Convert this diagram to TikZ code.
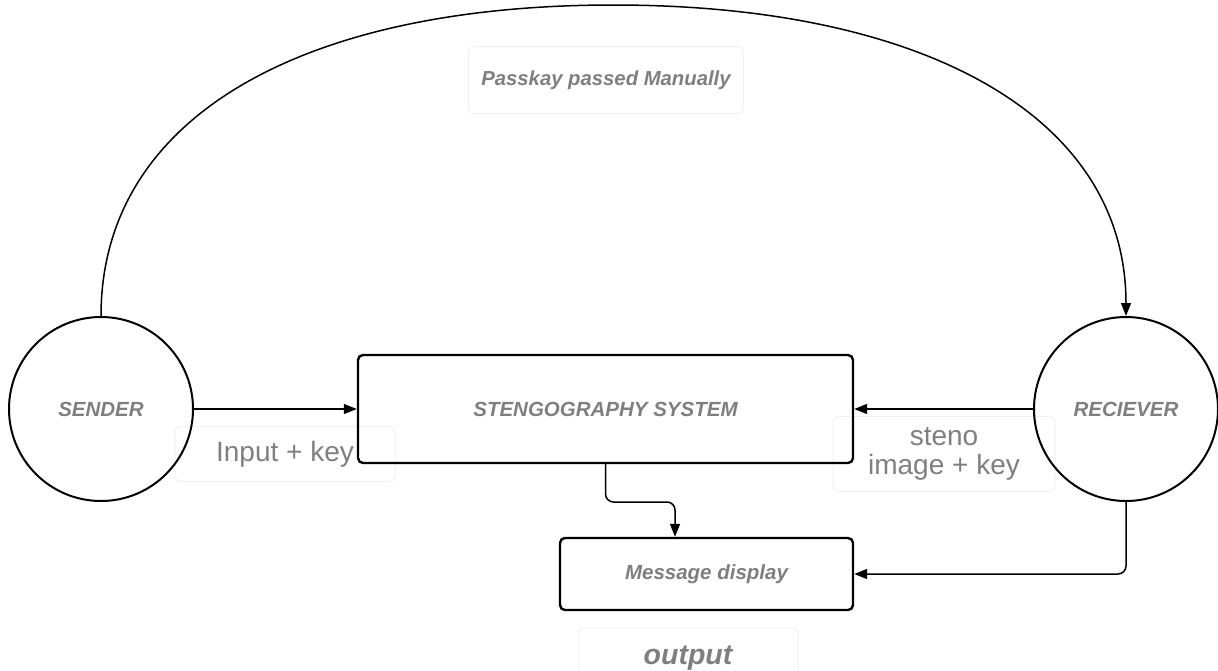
\documentclass[tikz,border=0pt]{standalone}
\usepackage{fontspec}
\setmainfont{Liberation Sans}
\usetikzlibrary{arrows.meta}
\definecolor{txt}{HTML}{7F7F7F}
\definecolor{faint}{HTML}{F1F1F1}
\tikzset{
  circ/.style={circle,draw,line width=2pt,minimum size=184pt,inner sep=0pt,
    font=\bfseries\itshape\fontsize{20.5}{24}\selectfont,text=txt},
  boxn/.style={draw,line width=2.4pt,rounded corners=5pt,inner sep=0pt,
    font=\bfseries\itshape\fontsize{20.5}{24}\selectfont,text=txt},
  lbl/.style={draw=faint,line width=1pt,rounded corners=6pt,inner sep=0pt,text=txt,align=center},
  arr/.style={line width=1.5pt,-{Triangle[length=13pt,width=10pt]}},
}
\begin{document}
\begin{tikzpicture}[x=1pt,y=-1pt]
\useasboundingbox (0,0) rectangle (1218,670);
% faint label boxes
\node[lbl,minimum width=275pt,minimum height=67pt,font=\bfseries\itshape\fontsize{20.3}{24}\selectfont] (pk) at (606,80) {Passkay passed Manually};
\node[lbl,minimum width=220pt,minimum height=55pt,font=\fontsize{28}{30}\selectfont] (ik) at (285,454) {Input + key\rule[-4pt]{0pt}{0pt}};
\node[lbl,minimum width=222pt,minimum height=75pt,font=\fontsize{28}{29.5}\selectfont] (sk) at (944,454) {steno\\image + key};
\node[lbl,minimum width=220pt,minimum height=60pt,font=\bfseries\itshape\fontsize{28.5}{30}\selectfont] (out) at (688,658) {output};
% main nodes
\node[circ] (s) at (101,409) {SENDER};
\node[circ] (r) at (1126,409) {RECIEVER};
\node[boxn,minimum width=495pt,minimum height=108pt] (sys) at (605.5,409) {STENGOGRAPHY SYSTEM};
\node[boxn,minimum width=293pt,minimum height=72pt] (msg) at (706.5,574) {Message display};
% connectors
\coordinate (top) at (613.5,5);
\draw[arr] (s.north) .. controls +(0,-200) and +(-310,0) .. (top)
  .. controls +(310,0) and +(0,-200) .. (r.north);
\draw[arr] (s.east) -- (sys.west);
\draw[arr] (r.west) -- (sys.east);
\coordinate (k) at (675,502);
\draw[arr,rounded corners=8pt] (sys.south) |- (k) -- (k |- msg.north);
\draw[arr,rounded corners=8pt] (r.south) |- (msg.east);
\end{tikzpicture}
\end{document}
